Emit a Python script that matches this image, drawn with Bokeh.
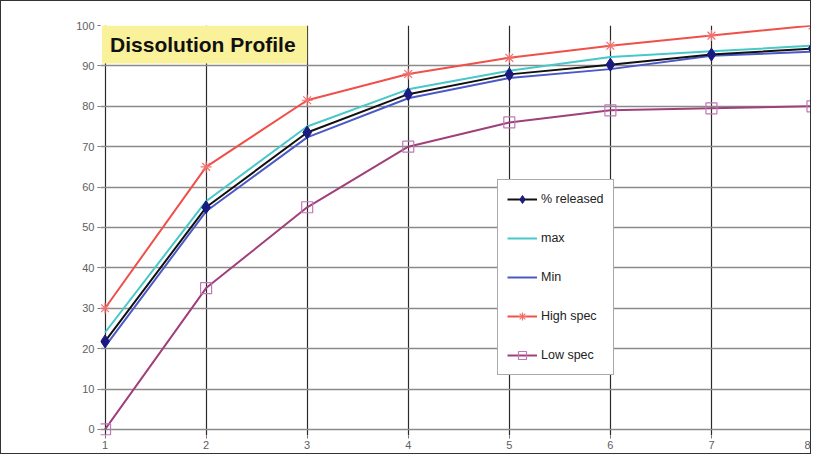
from bokeh.plotting import figure
from bokeh.models import Legend, LegendItem, BoxAnnotation, Label, FixedTicker, Range1d
from bokeh.embed import file_html
from bokeh.resources import INLINE

time_points = [1, 2, 3, 4, 5, 6, 7, 8]
pct_released = [21.8, 55.0, 73.5, 83.0, 87.9, 90.3, 92.8, 94.3]
max_vals = [24.0, 56.5, 75.0, 84.2, 88.8, 92.2, 93.6, 95.0]
min_vals = [20.5, 54.0, 72.3, 82.0, 87.0, 89.2, 92.5, 93.5]
high_spec = [30.0, 65.0, 81.5, 88.0, 92.0, 95.0, 97.5, 100.0]
low_spec = [0.0, 35.0, 55.0, 70.0, 76.0, 79.0, 79.5, 80.0]
y_ticks = [0, 10, 20, 30, 40, 50, 60, 70, 80, 90, 100]
title_text = "Dissolution Profile"

p = figure(width=811, height=454, output_backend="svg", toolbar_location=None,
           x_range=Range1d(0.955, 8.0), y_range=Range1d(-1.5, 100.0),
           min_border_left=99, min_border_right=0, min_border_top=24, min_border_bottom=20)
p.styles = {"border": "1px solid #333333"}
p.outline_line_color = None
p.background_fill_color = "white"
p.border_fill_color = "white"

p.xaxis.ticker = FixedTicker(ticks=time_points)
p.yaxis.ticker = FixedTicker(ticks=y_ticks)
p.xgrid.ticker = FixedTicker(ticks=time_points)
p.ygrid.ticker = FixedTicker(ticks=y_ticks)
p.xgrid.grid_line_color = "#2a2a2a"
p.xgrid.grid_line_width = 1.2
p.ygrid.grid_line_color = "#8a8a8a"
p.ygrid.grid_line_width = 1.6

for ax in (p.xaxis, p.yaxis):
    ax.axis_line_color = None
    ax.major_tick_line_color = "#777777"
    ax.minor_tick_line_color = None
    ax.major_tick_in = 0
    ax.major_tick_out = 3
    ax.major_label_text_font = "Liberation Sans"
    ax.major_label_text_font_size = "11px"
    ax.major_label_text_color = "#606060"
p.xaxis.major_label_standoff = 2
p.yaxis.major_label_standoff = 3

lw = 2
r_low = p.line(time_points, low_spec, line_color="#a0407a", line_width=lw)
m_low = p.scatter(time_points, low_spec, marker="square", size=11, fill_color=None,
                  line_color="#c078b8", line_width=1.2)
r_high = p.line(time_points, high_spec, line_color="#f0504a", line_width=lw)
m_high = p.scatter(time_points, high_spec, marker="asterisk", size=11,
                   line_color="#f07070", line_width=1.2)
r_min = p.line(time_points, min_vals, line_color="#4a58c8", line_width=lw)
r_max = p.line(time_points, max_vals, line_color="#48c8c8", line_width=lw)
r_rel = p.line(time_points, pct_released, line_color="#111111", line_width=lw)
m_rel = p.scatter(time_points, pct_released, marker="diamond", size=13,
                  fill_color="#1a1a80", line_color="#1a1a80")

title_box = BoxAnnotation(left=0.97, right=3.0, top=100, bottom=90.6,
                          fill_color="#faf29a", fill_alpha=1.0, line_color=None)
p.add_layout(title_box)
p.add_layout(Label(x=1.05, y=95.4, text=title_text, text_font="Liberation Sans",
                   text_font_style="bold", text_font_size="21px", text_color="#111111",
                   text_baseline="middle"))

legend = Legend(items=[
    LegendItem(label="% released", renderers=[r_rel, m_rel]),
    LegendItem(label="max", renderers=[r_max]),
    LegendItem(label="Min", renderers=[r_min]),
    LegendItem(label="High spec", renderers=[r_high, m_high]),
    LegendItem(label="Low spec", renderers=[r_low, m_low]),
], location=(397, 60))
legend.border_line_color = "#555555"
legend.border_line_width = 1
legend.background_fill_color = "white"
legend.background_fill_alpha = 1.0
legend.label_text_font = "Liberation Sans"
legend.label_text_font_size = "12.5px"
legend.label_text_color = "#222222"
legend.glyph_width = 30
legend.glyph_height = 20
legend.label_height = 20
legend.spacing = 19
legend.padding = 9
legend.margin = 0
legend.label_standoff = 4
p.add_layout(legend, "center")

open("out.html", "w").write(file_html(p, INLINE))
